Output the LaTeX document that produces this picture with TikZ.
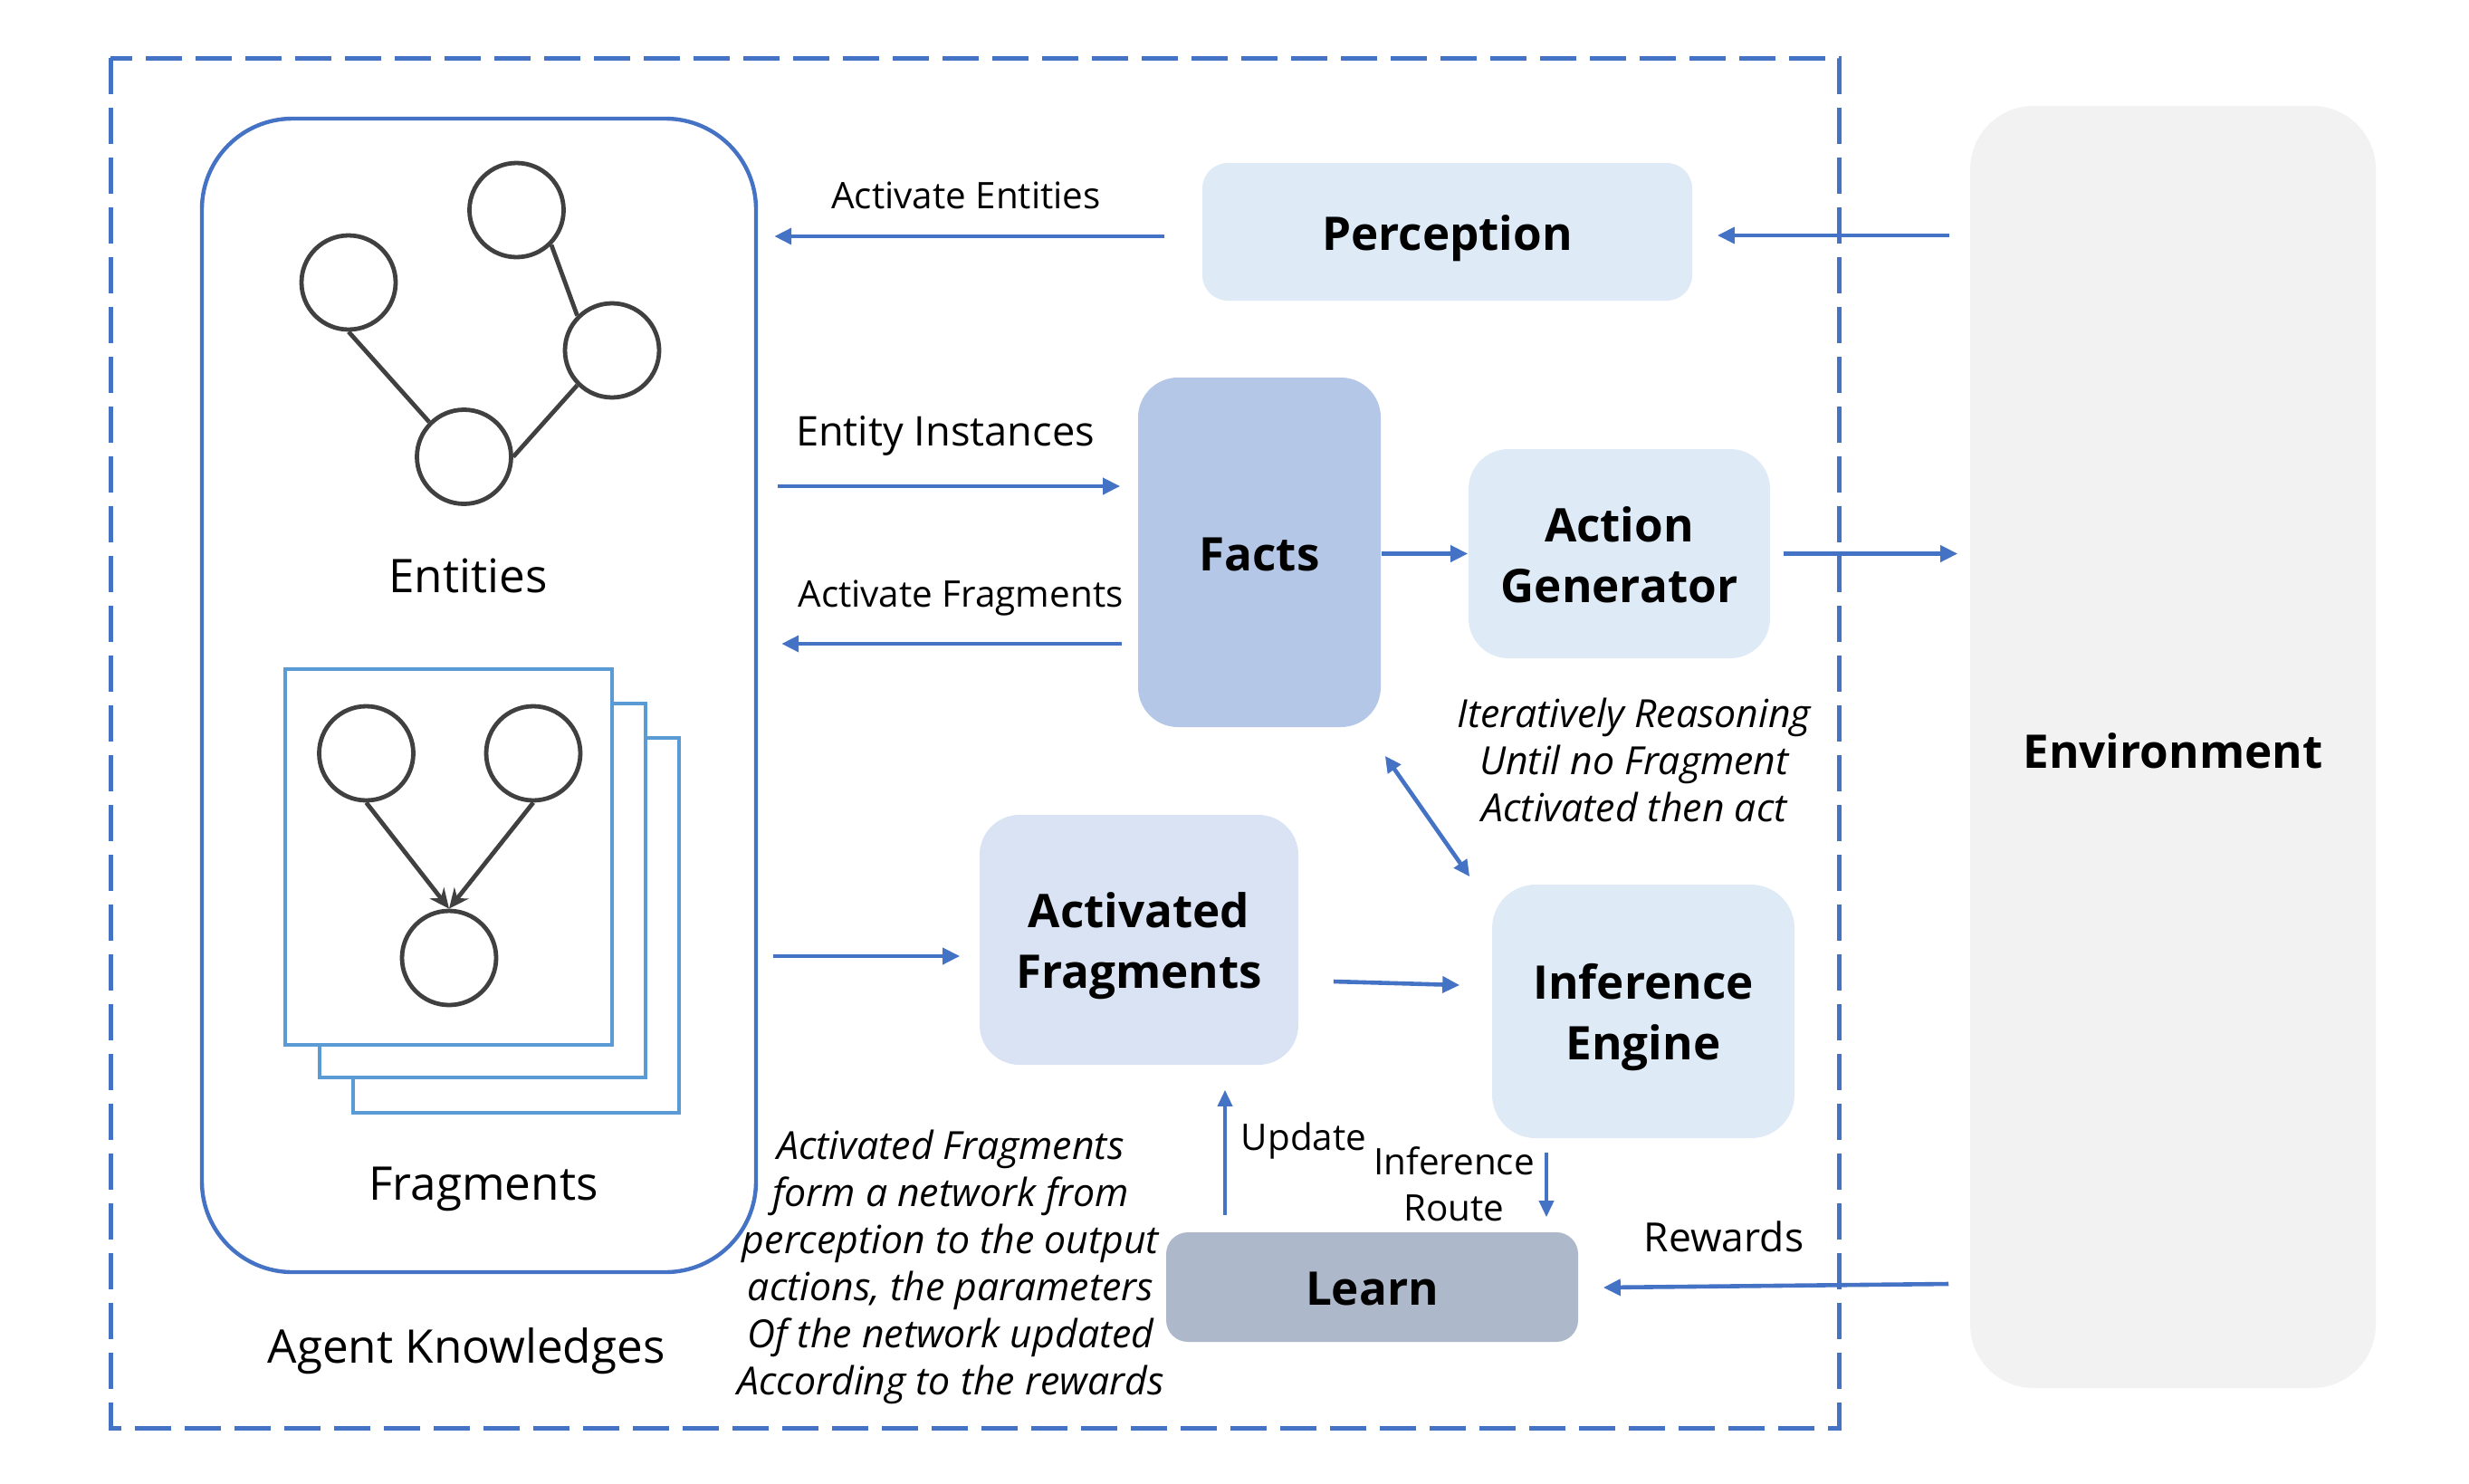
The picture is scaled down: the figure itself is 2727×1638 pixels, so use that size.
\documentclass[tikz,border=0pt]{standalone}
\usepackage{fontspec}
\setmainfont{Open Sans}
\usetikzlibrary{arrows.meta,calc}

\definecolor{lineblue}{HTML}{4472C4}
\definecolor{pageblue}{HTML}{5B9BD5}
\definecolor{nodegray}{HTML}{404040}
\definecolor{paleblue}{HTML}{DEEBF7}
\definecolor{fragblue}{HTML}{DAE3F3}
\definecolor{factblue}{HTML}{B4C7E7}
\definecolor{learngray}{HTML}{ADB9CA}
\definecolor{envgray}{HTML}{F2F2F2}

% two centred lines whose first baseline is the box baseline
\newcommand{\twolines}[2]{\begin{tabular}[t]{@{}c@{}}#1\\#2\end{tabular}}

\begin{document}
\begin{tikzpicture}[x=0.25pt,y=-0.25pt,
  block/.style={rectangle, inner sep=0pt},
  blocktext/.style={inner sep=0pt, anchor=base,
    font=\fontsize{12.8}{16.75}\selectfont\bfseries},
  smalllabel/.style={inner sep=0pt, align=center, font=\fontsize{10.1}{12.75}\selectfont},
  biglabel/.style={inner sep=0pt, align=center, font=\fontsize{12.8}{15}\selectfont},
  note/.style={inner sep=0pt, align=center, font=\fontsize{10.7}{13}\selectfont\itshape},
  flow/.style={draw=lineblue, line width=1.15pt, -{Triangle[length=4.75pt,width=4.4pt]}},
  thinflow/.style={draw=lineblue, line width=0.9pt, -{Triangle[length=4.5pt,width=4pt]}},
  twoway/.style={draw=lineblue, line width=1.15pt,
    {Triangle[length=4.5pt,width=4.2pt]}-{Triangle[length=4.5pt,width=4.2pt]}},
  entity/.style={circle, draw=nodegray, line width=1.2pt, minimum size=26pt, inner sep=0pt},
  link/.style={draw=nodegray, line width=1.2pt},
  dirlink/.style={draw=nodegray, line width=1.2pt, -{Stealth[length=5.5pt,width=5pt]}},
  page/.style={draw=pageblue, line width=1pt, fill=white},
  frame/.style={draw=lineblue, line width=1.25pt, dash pattern=on 10pt off 3.75pt}
]
\useasboundingbox (0,0) rectangle (2727,1638);

% agent boundary
\draw[frame] (122,64) rectangle (2031,1577);

% knowledge store
\node[draw=lineblue, line width=1.1pt, rounded corners=25pt, minimum width=153pt,
  minimum height=318.5pt, inner sep=0pt] (agent) at (529,768) {};

% entity graph
\node[entity] (e1) at (385,312) {};
\node[entity] (e2) at (570.5,232) {};
\node[entity] (e3) at (676,387) {};
\node[entity] (e4) at (512.5,504.5) {};
\draw[link] (e1.south) -- (e4.135);
\draw[link] (e2.-45) -- (e3.135);
\draw[link] (e3.225) -- (e4.east);
\node[biglabel] (entlbl) at (517,636) {Entities};

% stacked fragment pages
\draw[page] (390,815) rectangle (750,1229);
\draw[page] (353,777) rectangle (713,1190);
\draw[page] (315,739) rectangle (676,1154);
\node[entity] (f1) at (404.5,832) {};
\node[entity] (f2) at (589,832) {};
\node[entity] (f3) at (496,1058) {};
\draw[dirlink] (f1.south) -- (f3.north);
\draw[dirlink] (f2.south) -- (f3.north);
\node[biglabel] (fraglbl) at (534,1313) {Fragments};
\node[biglabel] (agentlbl) at (515,1492) {Agent Knowledges};

% processing blocks
\node[block, fill=paleblue, rounded corners=7pt, minimum width=135.25pt, minimum height=38pt]
  (perc) at (1598.5,256) {};
\node[block, fill=factblue, rounded corners=11pt, minimum width=67pt, minimum height=96.5pt]
  (facts) at (1391,610) {};
\node[block, fill=paleblue, rounded corners=11pt, minimum width=83.25pt, minimum height=57.75pt]
  (actgen) at (1788.5,611.5) {};
\node[block, fill=fragblue, rounded corners=11pt, minimum width=88pt, minimum height=69pt]
  (actfrag) at (1258,1038) {};
\node[block, fill=paleblue, rounded corners=12pt, minimum width=83.5pt, minimum height=70pt]
  (infeng) at (1815,1117) {};
\node[block, fill=learngray, rounded corners=6pt, minimum width=113.75pt, minimum height=30.25pt]
  (learn) at (1515.5,1421.5) {};
\node[block, fill=envgray, rounded corners=17.5pt, minimum width=112pt, minimum height=354pt]
  (env) at (2400,825) {};

% block titles, set on their baselines
\node[blocktext] (perctxt) at (1598.5,276) {Perception};
\node[blocktext] (factstxt) at (1391,630) {Facts};
\node[blocktext] (actgentxt) at (1788.5,598) {\twolines{Action}{Generator}};
\node[blocktext] (actfragtxt) at (1258,1024) {\twolines{Activated}{Fragments}};
\node[blocktext] (infengtxt) at (1815,1103) {\twolines{Inference}{Engine}};
\node[blocktext] (learntxt) at (1515.5,1441) {Learn};
\node[blocktext] (envtxt) at (2400,848) {Environment};

% connectors
\draw[flow, shorten <=10.25pt, shorten >=4.5pt]
  ($(perc.west)+(0,5)$) -- ($(agent.east|-perc.west)+(0,5)$);
\draw[flow, shorten <=5.5pt, shorten >=6.75pt]
  ($(env.west|-perc.east)+(0,4)$) -- ($(perc.east)+(0,4)$);
\draw[flow, shorten <=5.5pt, shorten >=4.75pt]
  ($(agent.east|-facts.west)+(0,-73)$) -- ($(facts.west)+(0,-73)$);
\draw[flow, shorten <=4.25pt, shorten >=6.5pt]
  ($(facts.west)+(0,101)$) -- ($(agent.east|-facts.west)+(0,101)$);
\draw[flow] (facts.east|-actgen.west) -- (actgen.west);
\draw[flow, shorten <=3.5pt, shorten >=3.25pt]
  (actgen.east) -- (env.west|-actgen.east);
\draw[twoway] ($(facts.south east)+(4,31)$) -- ($(infeng.north west)+(-24,-8)$);
\draw[flow, shorten <=4.25pt, shorten >=5.25pt]
  ($(agent.east|-actfrag.west)+(0,18)$) -- ($(actfrag.west)+(0,18)$);
\draw[flow] ($(actfrag.east)+(38,46)$) -- ($(infeng.west)+(-35,-29)$);
\draw[thinflow] ($(learn.north)+(-162.5,-18)$) -- ($(actfrag.south)+(95,27)$);
\draw[thinflow] ($(infeng.south)+(-107,15)$) -- ($(learn.north)+(192.5,-16)$);
\draw[flow] ($(env.west|-learn.east)+(-23,-3.5)$) -- ($(learn.east)+(27,0.5)$);

% connector labels
\node[smalllabel] (lblae) at (1067,216) {Activate Entities};
\node[inner sep=0pt, font=\fontsize{11.3}{14}\selectfont] (lblei) at (1044,481) {Entity Instances};
\node[smalllabel] (lblaf) at (1061,661) {Activate Fragments};
\node[smalllabel] (lblup) at (1440,1260) {Update};
\node[smalllabel] (lblir) at (1606,1308) {Inference\\Route};
\node[inner sep=0pt, font=\fontsize{11.1}{14}\selectfont] (lblrw) at (1904,1366) {Rewards};

% annotations
\node[note] (iter) at (1805,839) {Iteratively Reasoning\\Until no Fragment\\Activated then act};
\node[note] (netnote) at (1050,1399) {Activated Fragments\\form a network from\\perception to the output\\actions, the parameters\\Of the network updated\\According to the rewards};
\end{tikzpicture}
\end{document}
